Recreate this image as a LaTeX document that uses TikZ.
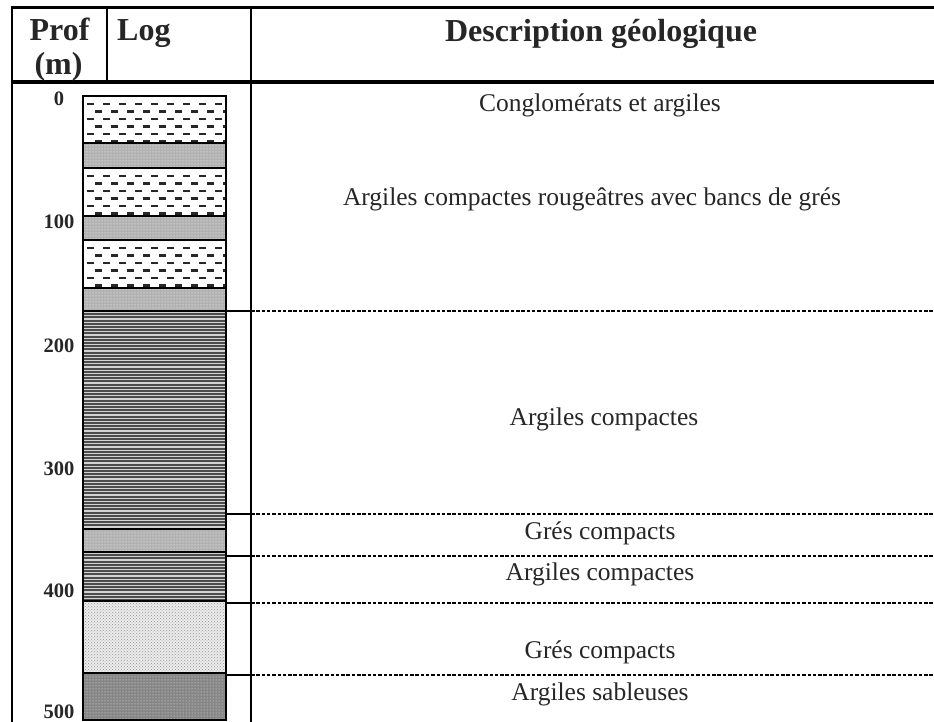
\documentclass[tikz,border=0pt]{standalone}
\usepackage{fontspec}
\setmainfont{Liberation Serif}
\usetikzlibrary{patterns}
\begin{document}
\begin{tikzpicture}[x=1pt,y=-1pt,
  hdr/.style={font=\fontsize{32}{36}\selectfont\bfseries, text=black!85, inner sep=0pt, anchor=base},
  depth/.style={font=\fontsize{20.5}{24}\selectfont\bfseries, text=black!85, inner sep=0pt, anchor=base},
  desc/.style={font=\fontsize{25.5}{29}\selectfont, text=black!85, inner sep=0pt, anchor=base},
  frame/.style={line width=2.2pt, black},
  tick/.style={line width=2pt, black},
  sep/.style={line width=1.5pt, black, dash pattern=on 3.5pt off 1.8pt},
  bound/.style={line width=1.8pt, black},
  claydash/.style={line width=2.2pt, black!85},
]
\useasboundingbox (0,0) rectangle (934,722);

% ---- log column: lithology layers ----
% clay / conglomerate intervals (dashed symbol)
\foreach \t/\b in {96/143,168/216,240/288}{
  \fill[white] (83,\t) rectangle (226,\b);
  \begin{scope}
    \clip (83,\t) rectangle (226,\b);
    \foreach \r in {0,...,5}{
      \pgfmathsetmacro\yy{\t+8+7.5*\r}
      \pgfmathsetmacro\xo{mod(\r,2)*8}
      \foreach \k in {0,...,9}{
        \draw[claydash] ({87+\xo+16*\k},\yy) -- ++(6.5,0);
      }
    }
  \end{scope}
}
% sandstone bands (dotted)
\foreach \t/\b in {143/168,216/240,288/311,529/552}{
  \fill[gray!60] (83,\t) rectangle (226,\b);
  \fill[pattern=dots, pattern color=white] (83,\t) rectangle (226,\b);
}
% compact clay (striped)
\foreach \t/\b in {311/529,552/601}{
  \fill[black!70] (83,\t) rectangle (226,\b);
  \begin{scope}
    \clip (83,\t) rectangle (226,\b);
    \pgfmathsetmacro\nn{int((\b-\t)/3.2)}
    \foreach \i in {0,...,\nn}{
      \draw[gray!35, line width=1.2pt] (83,{\t+1.5+3.2*\i}) -- (226,{\t+1.5+3.2*\i});
    }
  \end{scope}
}
% compact sandstone (light dots)
\fill[gray!15] (83,601) rectangle (226,673);
\fill[pattern=crosshatch dots, pattern color=gray!85] (83,601) rectangle (226,673);
% sandy clay (dark dots)
\fill[gray!95] (83,673) rectangle (226,720);
\fill[pattern=dots, pattern color=white!85!gray] (83,673) rectangle (226,720);

% layer boundaries and outline
\foreach \y in {143,168,216,240,288,311,529,552,601,673}{
  \draw[bound] (83,\y) -- (226,\y);
}
\draw[line width=1.6pt] (83,96) rectangle (226,720);

% ---- table frame ----
\draw[frame] (12,6.5) -- (12,722);
\draw[line width=3pt] (11,7.5) -- (934,7.5);
\draw[line width=4pt] (11,82) -- (934,82);
\draw[frame] (107,7) -- (107,82);
\draw[frame] (251,7) -- (251,722);

% ---- header ----
\node[hdr] (prof) at (59.5,41) {Prof};
\node[hdr] (unit) at (58.5,75) {(m)};
\node[hdr, anchor=base west] (log) at (117,41) {Log};
\node[hdr] (descr) at (601,42) {Description géologique};

% ---- depth scale ----
\foreach \d/\y in {0/106,100/229,200/352,300/475,400/597,500/718}{
  \node[depth] (z\d) at (59,\y) {\d};
}

% ---- interval limits ----
\foreach \n/\y in {1/311,2/514,3/556,4/603,5/675}{
  \coordinate (lg\n) at (226,\y);
  \coordinate (cs\n) at (251,\y);
  \coordinate (re\n) at (934,\y);
  \draw[tick] (lg\n) -- (cs\n);
  \draw[sep] (cs\n) -- (re\n);
}

% ---- descriptions ----
\node[desc] (d1) at (600,112) {Conglomérats et argiles};
\node[desc] (d2) at (592,206) {Argiles compactes rougeâtres avec bancs de grés};
\node[desc] (d3) at (604,425) {Argiles compactes};
\node[desc] (d4) at (600,539) {Grés compacts};
\node[desc] (d5) at (600,580) {Argiles compactes};
\node[desc] (d6) at (600,658) {Grés compacts};
\node[desc] (d7) at (600,700) {Argiles sableuses};
\end{tikzpicture}
\end{document}
